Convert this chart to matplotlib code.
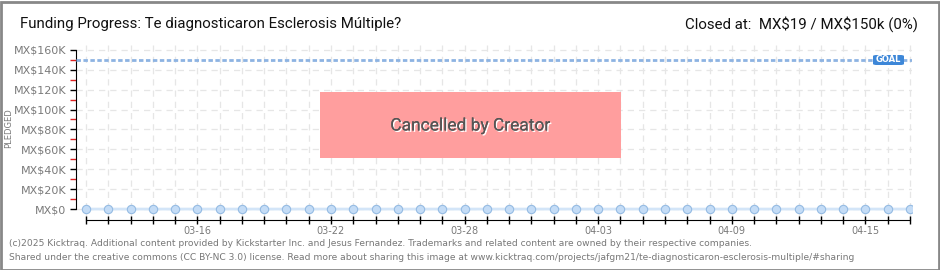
import matplotlib
matplotlib.use("Agg")
import matplotlib.pyplot as plt
import matplotlib.dates as mdates
import pandas as pd
from matplotlib.patches import Rectangle, FancyBboxPatch
import matplotlib.patheffects as pe

## Data
dates = pd.date_range("2025-03-11", "2025-04-17", freq="D")
pledged = [0, 0, 0, 0, 0, 0, 0, 0, 0, 0, 0, 0, 0, 0, 0, 0, 0, 0, 0,
           0, 0, 0, 0, 0, 0, 0, 0, 0, 0, 0, 0, 0, 0, 0, 0, 0, 0, 19]
goal = 150000
label_days = ["2025-03-16", "2025-03-22", "2025-03-28",
              "2025-04-03", "2025-04-09", "2025-04-15"]
y_ticks = [0, 20000, 40000, 60000, 80000, 100000, 120000, 140000, 160000]
y_labels = ["MX\\$0", "MX\\$20K", "MX\\$40K", "MX\\$60K", "MX\\$80K",
            "MX\\$100K", "MX\\$120K", "MX\\$140K", "MX\\$160K"]

plt.rcParams["hatch.color"] = "#ffb3b3"
plt.rcParams["hatch.linewidth"] = 0.6

W, H = 940, 270
fig = plt.figure(figsize=(W / 100, H / 100), dpi=100)
fig.patch.set_facecolor("white")

## Axes box in pixels: left 76, right 912, top 44, bottom 220
ax = fig.add_axes([76 / W, 1 - 220 / H, (912 - 76) / W, (220 - 44) / H])
ax.set_facecolor("white")

x0 = mdates.date2num(dates[0])
x1 = mdates.date2num(dates[-1])
ax.set_xlim(x0 - 0.45, x1 + 0.09)
ax.set_ylim(-11000, 165800)

## Ticks
ax.set_yticks(y_ticks)
ax.set_yticklabels(y_labels)
ax.set_yticks([10000, 30000, 50000, 70000, 90000, 110000, 130000, 150000], minor=True)
label_nums = [mdates.date2num(pd.Timestamp(d)) for d in label_days]
ax.set_xticks(label_nums)
ax.set_xticklabels([pd.Timestamp(d).strftime("%m-%d") for d in label_days])
ax.xaxis.set_minor_locator(mdates.DayLocator())

## Grid
ax.grid(True, axis="y", which="major", color="#e6e6e6", linestyle=(0, (5, 4)), linewidth=0.9)
ax.grid(True, axis="x", which="both", color="#e6e6e6", linestyle=(0, (5, 4)), linewidth=0.9)
ax.set_axisbelow(True)

## Goal line
ax.axhline(goal, color="#8db3e2", linestyle=(0, (1.6, 0.9)), linewidth=2.0, zorder=3)
ax.add_patch(FancyBboxPatch((873 / W, 1 - 65 / H), 31 / W, 10 / H,
                            boxstyle="round,pad=0,rounding_size=0.004",
                            transform=fig.transFigure, facecolor="#3d87d8",
                            edgecolor="none", zorder=5))
fig.text(888 / W, 1 - 60 / H, "GOAL", color="white", fontsize=6,
         ha="center", va="center", family="DejaVu Sans", fontweight="bold")

## Pledged series
ax.plot(dates, pledged, color="#d3e5f8", linewidth=2, marker="o",
        markersize=6, markerfacecolor="#c4dcf6", markeredgecolor="#95bbe3",
        markeredgewidth=0.8, zorder=4)

## Cancelled box
box = Rectangle((320 / W, 1 - 158 / H), (621 - 320) / W, (158 - 92) / H,
                transform=fig.transFigure, facecolor="#ff9e9e",
                edgecolor="none", hatch="////", zorder=6)
fig.patches.append(box)
fig.text(470 / W, 1 - 126 / H, "Cancelled by Creator", fontsize=12.5,
         color="#555555", ha="center", va="center", family="Roboto",
         path_effects=[pe.withSimplePatchShadow(offset=(1, -1), shadow_rgbFace="white", alpha=1),
                       pe.Normal()],
         zorder=7)

## Spines and ticks
for s in ["top", "right"]:
    ax.spines[s].set_visible(False)
ax.spines["left"].set_bounds(0, 160000)
ax.spines["left"].set_color("black")
ax.spines["bottom"].set_bounds(x0, x1)
ax.spines["bottom"].set_color("black")

ax.tick_params(axis="y", which="major", length=4, width=1, color="black",
               labelsize=8, labelcolor="#7a7a7a", pad=3)
ax.tick_params(axis="y", which="minor", length=4, width=1, color="#dd2222")
ax.tick_params(axis="x", which="both", direction="inout", length=6, width=1,
               color="black", labelsize=7, labelcolor="#7a7a7a", pad=1)

fig.text(9 / W, 1 - 128 / H, "PLEDGED", rotation=90, fontsize=6,
         color="#7a7a7a", ha="center", va="center")

## Header text
fig.text(20 / W, 1 - 24 / H, "Funding Progress: Te diagnosticaron Esclerosis Múltiple?",
         fontsize=10.8, color="#111111", ha="left", va="center",
         family="Roboto")
fig.text(918 / W, 1 - 24 / H, "Closed at:  MX\\$19 / MX\\$150k (0%)",
         fontsize=10.8, color="#111111", ha="right", va="center",
         family="Roboto")

## Footer
fig.text(9 / W, 1 - 244 / H,
         "(c)2025 Kicktraq. Additional content provided by Kickstarter Inc. and Jesus Fernandez. "
         "Trademarks and related content are owned by their respective companies.",
         fontsize=6.6, color="#777777", ha="left", va="center")
fig.text(9 / W, 1 - 257 / H,
         "Shared under the creative commons (CC BY-NC 3.0) license. Read more about sharing this image at "
         "www.kicktraq.com/projects/jafgm21/te-diagnosticaron-esclerosis-multiple/#sharing",
         fontsize=6.6, color="#777777", ha="left", va="center")

## Outer border
fig.patches.append(Rectangle((0.5 / W, 0.5 / H), (W - 2) / W, (H - 2) / H,
                             transform=fig.transFigure, fill=False,
                             edgecolor="#888888", linewidth=2, zorder=10))

fig.savefig("out.png", dpi=100)
